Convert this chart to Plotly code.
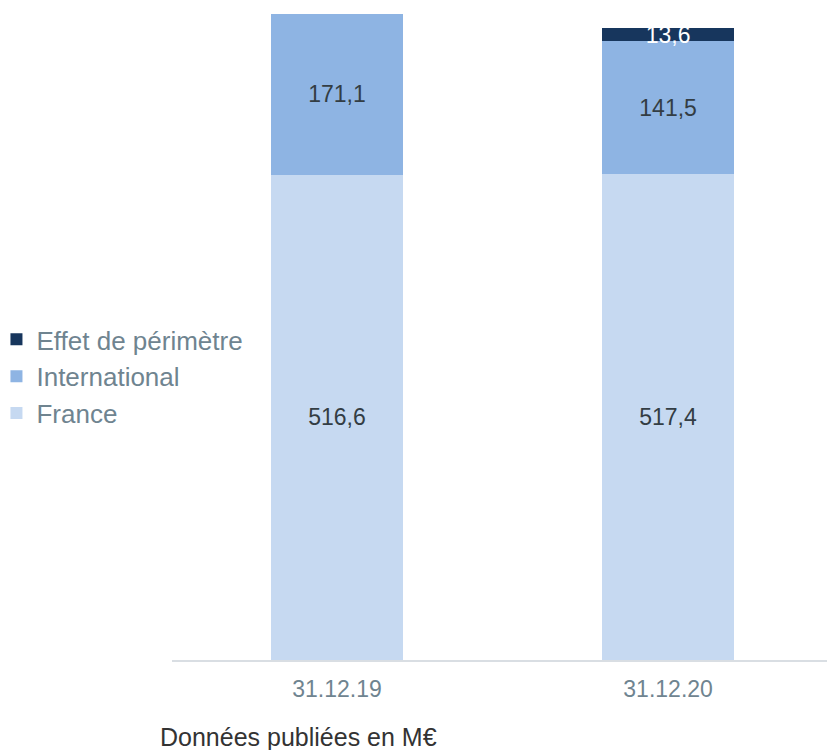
import plotly.graph_objects as go

categories = ["31.12.19", "31.12.20"]
france = [516.6, 517.4]
international = [171.1, 141.5]
effet = [0, 13.6]

def fmt(v):
    return "" if not v else f"{v:.1f}".replace(".", ",")

fig = go.Figure()
fig.add_trace(go.Bar(x=categories, y=france, name="France", marker_color="#C6D9F1",
                     text=[fmt(v) for v in france], textposition="inside",
                     insidetextanchor="middle", constraintext="none",
                     textfont=dict(color="#333d44", size=23)))
fig.add_trace(go.Bar(x=categories, y=international, name="International", marker_color="#8EB4E3",
                     text=[fmt(v) for v in international], textposition="inside",
                     insidetextanchor="middle", constraintext="none",
                     textfont=dict(color="#333d44", size=23)))
fig.add_trace(go.Bar(x=categories, y=effet, name="Effet de périmètre", marker_color="#17365D",
                     text=[fmt(v) for v in effet], textposition="inside",
                     insidetextanchor="middle", constraintext="none", cliponaxis=False,
                     textfont=dict(color="#FFFFFF", size=23)))

fig.update_traces(marker_line_width=0)
fig.update_layout(
    width=827, height=750,
    barmode="stack", bargap=0.6,
    plot_bgcolor="white", paper_bgcolor="white",
    font=dict(family="Liberation Sans, Arial, sans-serif"),
    margin=dict(l=172, r=0, t=14, b=90, autoexpand=False),
    showlegend=True,
    legend=dict(xref="paper", yref="paper", x=-0.268, y=0.4389,
                xanchor="left", yanchor="middle", traceorder="reversed",
                font=dict(size=26, color="#6F8490"), bgcolor="rgba(0,0,0,0)"),
    xaxis=dict(range=[-0.4985, 1.48], showline=True, linecolor="#D9DEE3", linewidth=2,
               tickfont=dict(size=23, color="#6F8490"), ticks="", showgrid=False,
               ticklabelstandoff=7),
    yaxis=dict(range=[0, 687.7], visible=False, showgrid=False),
    annotations=[dict(text="Données publiées en M€", xref="paper", yref="paper",
                      x=-0.0215, y=-0.119, xanchor="left", yanchor="middle", showarrow=False,
                      font=dict(size=25, color="#333333"))],
)
fig.write_html("out.html", config={"displayModeBar": False},
               post_script="document.body.style.margin='0';document.body.style.padding='0';")
